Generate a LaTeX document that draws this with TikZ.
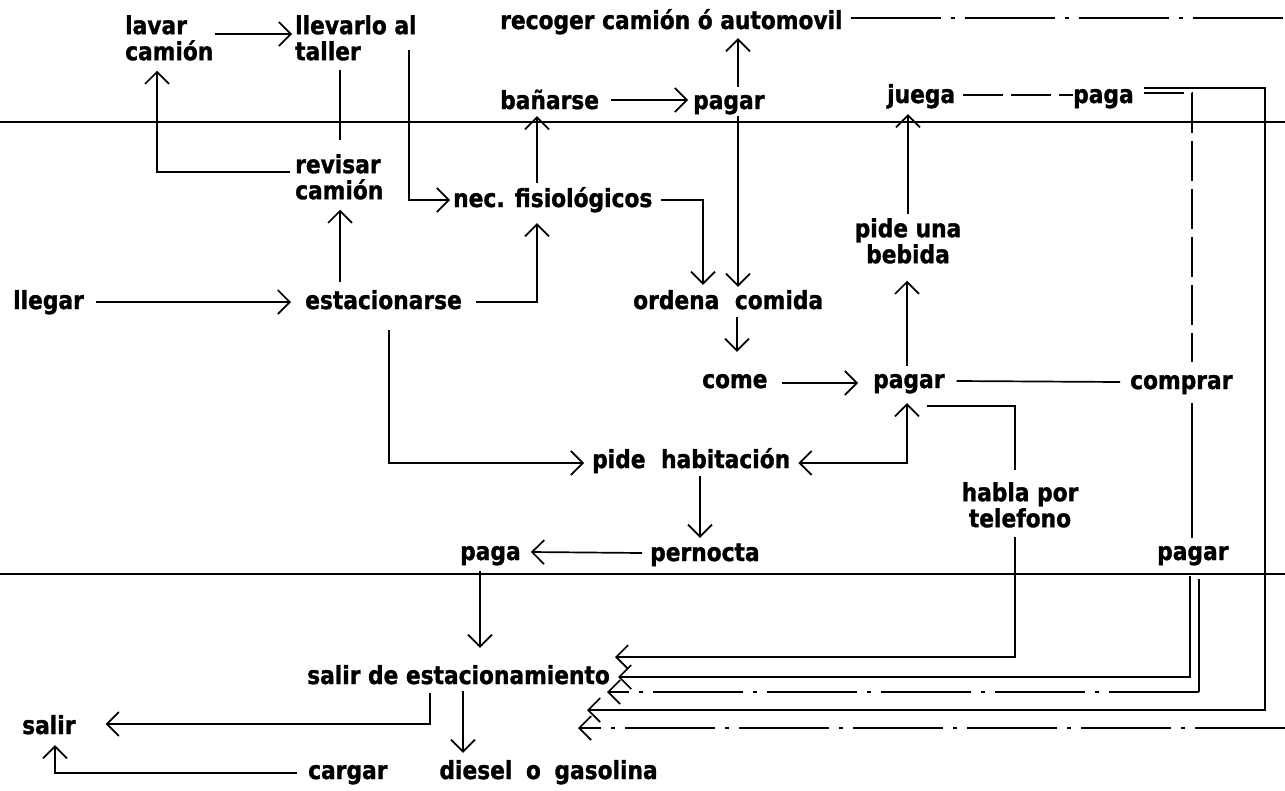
\documentclass[tikz,border=0pt]{standalone}
\usepackage{fontspec}
\newfontfamily\lblfamily{DejaVu Sans}[FakeStretch=0.87, BoldFeatures={FakeBold=1.2}]
\usetikzlibrary{arrows.meta,calc}
\newcommand\lblfont{\lblfamily\bfseries\fontsize{25}{26}\selectfont}
\tikzset{
  lbl/.style={inner sep=0pt, text height=19pt, text depth=5pt, anchor=west, font=\lblfont},
  mlbl/.style={inner sep=0pt, font=\lblfont},
  ln/.style={line width=1.7pt},
  arr/.style={ln, -{Straight Barb[length=12pt,width=24pt]}},
  dbl/.style={ln, {Straight Barb[length=12pt,width=24pt]}-{Straight Barb[length=12pt,width=24pt]}},
  brk/.style={dash pattern=on 90pt off 10pt on 4pt off 10pt},
  brkb/.style={dash pattern=on 40pt off 8pt},
  sep/.style={line width=1.7pt}
}
\begin{document}
\begin{tikzpicture}[x=1pt,y=-1pt]
\useasboundingbox (0,0) rectangle (1285,790);
\fill[white] (0,0) rectangle (1285,790);

% separators
\coordinate (sepA1) at (0,122);
\coordinate (sepA2) at (1285,122);
\coordinate (sepB1) at (0,574);
\coordinate (sepB2) at (1285,574);
\coordinate (edgeTop) at (1285,18);
\coordinate (edgeBot) at (1285,728);
\coordinate (rcol) at (1265,400);
\draw[sep] (sepA1) -- (sepA2);
\draw[sep] (sepB1) -- (sepB2);

% single-line nodes
\node[lbl] (llegar) at (13,302) {llegar};
\node[lbl] (estacionarse) at (305,302) {estacionarse};
\node[lbl] (nec) at (453,200) {nec. fisiológicos};
\node[lbl] (banarse) at (500,102) {bañarse};
\node[lbl] (pagarA) at (693,102) {pagar};
\node[lbl] (recoger) at (500,22) {recoger camión ó automovil};
\node[lbl] (ordena) at (633,302) {ordena\hspace{8pt} comida};
\node[lbl] (come) at (702,381) {come};
\node[lbl] (pagarB) at (873,381) {pagar};
\node[lbl] (comprar) at (1130,382) {comprar};
\node[lbl] (juega) at (887,96) {juega};
\node[lbl] (pagaA) at (1073,96) {paga};
\node[lbl] (habitacion) at (592,461) {pide\hspace{8pt} habitación};
\node[lbl] (pernocta) at (650,554) {pernocta};
\node[lbl] (pagaB) at (460,553) {paga};
\node[lbl] (pagarC) at (1157,553) {pagar};
\node[lbl] (salirest) at (307,677) {salir de estacionamiento};
\node[lbl] (salir) at (22,727) {salir};
\node[lbl] (cargar) at (308,772) {cargar\hspace{52pt}diesel\hspace{6pt} o\hspace{6pt} gasolina};

% multi-line nodes
\node[mlbl, align=left, anchor=north west] (lavar) at (125,15) {lavar\\camión};
\node[mlbl, align=left, anchor=north west] (llevarlo) at (295,15) {llevarlo al\\taller};
\node[mlbl, align=left, anchor=north west] (revisar) at (295,154) {revisar\\camión};
\node[mlbl, align=center, anchor=north] (bebida) at (908,218) {pide una\\bebida};
\node[mlbl, align=center, anchor=north] (habla) at (1020,482) {habla por\\telefono};

% corner of the second line from the bottom "pagar"
\coordinate (pcorner) at (1199,692);

% connectors
\draw[arr] ($(llegar.east)+(12,0)$) -- ($(estacionarse.west)+(-14,0)$);
\draw[arr] ($(estacionarse.west)+(35,-20)$) -- ($(revisar.south west)+(45,10)$);
\draw[arr] ($(revisar.north west)+(-5,18)$) -| ($(lavar.south west)+(32,10)$);
\draw[arr] ($(lavar.north west)+(90,19)$) -- ($(llevarlo.north west)+(-3,19)$);
\draw[ln] ($(llevarlo.south west)+(45,9)$) -- ($(revisar.north west)+(45,-14)$);
\draw[arr] ($(llevarlo.north west)+(114,35)$) |- ($(nec.west)+(-3,0)$);
\draw[arr] ($(nec.north west)+(84,-5)$) -- ($(banarse.south west)+(37,2)$);
\draw[arr] ($(estacionarse.east)+(14,0)$) -| ($(nec.south west)+(84,11)$);
\draw[arr] ($(banarse.east)+(12,-2)$) -- ($(pagarA.west)+(-5,-2)$);
\draw[arr] ($(pagarA.north west)+(45,-3)$) -- ($(recoger.south west)+(238,4)$);
\draw[ln,brk] ($(recoger.east)+(8,-4)$) -- (edgeTop);
\draw[arr] ($(pagarA.south west)+(45,2)$) -- ($(ordena.north west)+(105,-3)$);
\draw[arr] ($(nec.east)+(8,0)$) -| ($(ordena.north west)+(70,-5)$);
\draw[arr] ($(ordena.south west)+(104,3)$) -- ($(come.north west)+(35,-17)$);
\draw[arr] ($(come.east)+(14,2)$) -- ($(pagarB.west)+(-15,2)$);
\draw[arr] ($(pagarB.north west)+(34,-3)$) -- ($(bebida.south)+(-1,17)$);
\draw[arr] ($(bebida.north)+(0,-4)$) -- ($(juega.south west)+(21,6)$);
\draw[ln,brkb] ($(juega.east)+(8,-1)$) -- ($(pagaA.west)+(0,-1)$);
\draw[arr] ($(pagaA.east)+(10,-8)$) -| (rcol) |- ($(salirest.west)+(280,33)$);
\draw[ln,brkb] ($(pagaA.east)+(10,-3)$) -| ($(comprar.north west)+(62,-8)$);
\draw[ln] ($(comprar.south west)+(62,9)$) -- ($(pagarC.north west)+(35,-3)$);
\draw[ln] ($(pagarB.east)+(12,0)$) -- ($(comprar.west)+(-10,0)$);
\draw[ln] ($(pagarB.south west)+(54,13)$) -| ($(habla.north)+(-5,-12)$);
\draw[arr] ($(habla.south)+(-5,9)$) |- ($(salirest.west)+(308,-20)$);
\draw[dbl] ($(habitacion.east)+(8,2)$) -| ($(pagarB.south west)+(34,10)$);
\draw[arr] ($(estacionarse.south west)+(84,16)$) |- ($(habitacion.west)+(-8,2)$);
\draw[arr] ($(habitacion.south west)+(108,3)$) -- ($(pernocta.north west)+(50,-4)$);
\draw[arr] ($(pernocta.west)+(-8,-1)$) -- ($(pagaB.east)+(10,-1)$);
\draw[arr] ($(pagaB.south west)+(20,6)$) -- ($(salirest.north west)+(173,-17)$);
\draw[arr] ($(salirest.south west)+(123,4)$) |- ($(salir.east)+(30,-3)$);
\draw[arr] ($(salirest.south west)+(156,2)$) -- ($(cargar.north west)+(155,-7)$);
\draw[arr] ($(cargar.west)+(-11,1)$) -| ($(salir.south west)+(33,6)$);
\draw[arr] ($(pagarC.south west)+(33,11)$) |- ($(salirest.east)+(8,0)$);
\draw[ln] ($(pagarC.south west)+(42,14)$) -- (pcorner);
\draw[arr,brk] (pcorner) -- ($(salirest.west)+(300,15)$);
\draw[arr,brk] (edgeBot) -- ($(salirest.west)+(271,51)$);
\end{tikzpicture}
\end{document}
